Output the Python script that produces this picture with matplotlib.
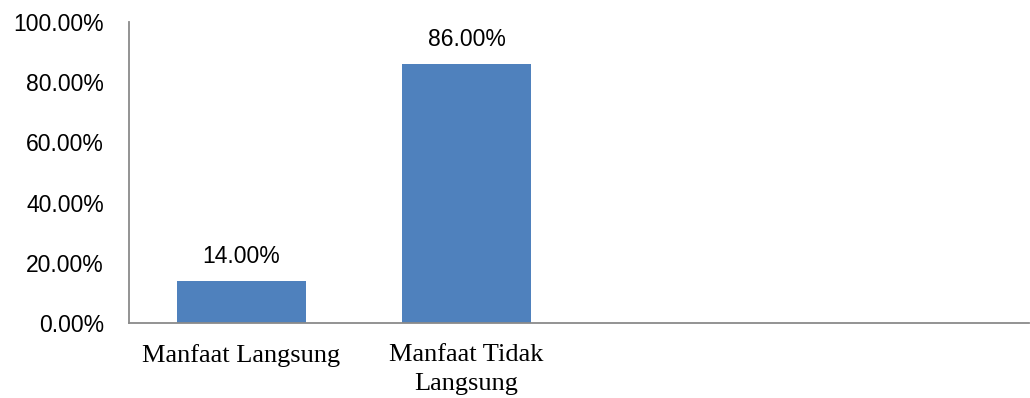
import matplotlib
matplotlib.use('Agg')
import matplotlib.pyplot as plt

# data
categories = ['Manfaat Langsung', 'Manfaat Tidak\nLangsung', '', '']
values = [14.0, 86.0, None, None]
y_ticks = [0, 20, 40, 60, 80, 100]

fig = plt.figure(figsize=(10.30, 3.98), dpi=100)
ax = fig.add_axes([129 / 1030, 75 / 398, 900 / 1030, 301 / 398])

xs = range(len(categories))
bar_vals = [v if v is not None else 0 for v in values]
bars = ax.bar(xs, bar_vals, width=0.57, color='#4F81BD')

# value labels above the real bars
for x, v in zip(xs, values):
    if v is None:
        continue
    ax.annotate(f'{v:.2f}%', (x, v), xytext=(0, 13), textcoords='offset points',
                ha='center', va='baseline', fontsize=16.5, family='Liberation Sans')

ax.set_xlim(-0.5, len(categories) - 0.5)
ax.set_ylim(0, 100)
ax.set_yticks(y_ticks)
ax.set_yticklabels([f'{t:.2f}%' for t in y_ticks], family='Liberation Sans', fontsize=16.5)
ax.set_xticks(list(xs))
ax.set_xticklabels(categories, family='Liberation Serif', fontsize=19)
for lab in ax.get_xticklabels():
    lab.set_linespacing(1.45)
ax.tick_params(axis='y', length=0, pad=18)
ax.tick_params(axis='x', length=0, pad=15)

for side in ['top', 'right']:
    ax.spines[side].set_visible(False)
for side in ['left', 'bottom']:
    ax.spines[side].set_color('#8a8a8a')
    ax.spines[side].set_linewidth(1.3)

fig.savefig('out.png', dpi=100)
